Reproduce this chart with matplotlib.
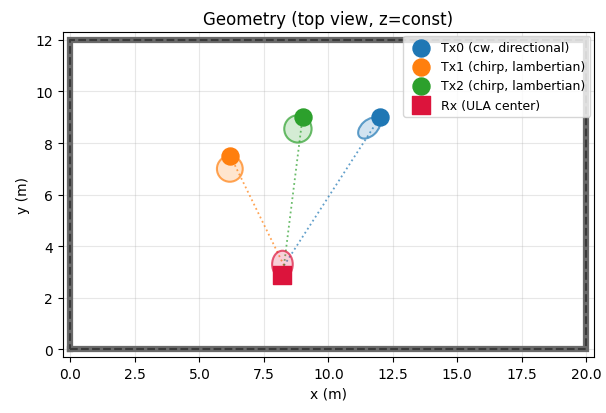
import matplotlib
matplotlib.use("Agg")
import matplotlib.pyplot as plt
from matplotlib.patches import Ellipse

# Data
room_w, room_h = 20.0, 12.0
tx_names = ["Tx0 (cw, directional)", "Tx1 (chirp, lambertian)", "Tx2 (chirp, lambertian)"]
tx_colors = ["#1f77b4", "#ff7f0e", "#2ca02c"]
tx_x = [12.0, 6.2, 9.0]
tx_y = [9.0, 7.5, 9.0]
# footprint ellipses: center x, center y, width, height, angle
fp_x = [11.58, 6.18, 8.82]
fp_y = [8.58, 7.0, 8.55]
fp_w = [1.0, 1.0, 1.06]
fp_h = [0.62, 1.0, 1.06]
fp_ang = [42.0, 0.0, 0.0]
rx_name = "Rx (ULA center)"
rx_color = "crimson"
rx_x, rx_y = 8.22, 2.88
rx_link_x, rx_link_y = 8.28, 3.25
rx_fp = (8.22, 3.3, 0.8, 1.05)

fig = plt.figure(figsize=(6.06, 4.14), dpi=100)
ax = fig.add_axes([62.7/606, 1 - 359.3/414, (594 - 62.7)/606, (359.3 - 32)/414])

# room boundary
rxs = [0, room_w, room_w, 0, 0]
rys = [0, 0, room_h, room_h, 0]
ax.plot(rxs, rys, color="#6a6a6a", lw=4.5, solid_joinstyle="miter", zorder=2)
ax.plot(rxs, rys, color="#3a3a3a", lw=1.5, ls="--", zorder=2.1)

# links
for i in range(len(tx_x)):
    ax.plot([rx_link_x, tx_x[i]], [rx_link_y, tx_y[i]], ls=":", color=tx_colors[i],
            lw=1.3, alpha=0.7, zorder=3)

# footprints
for i in range(len(tx_x)):
    e = Ellipse((fp_x[i], fp_y[i]), fp_w[i], fp_h[i], angle=fp_ang[i],
                facecolor=tx_colors[i], edgecolor=tx_colors[i], alpha=0.2, lw=0, zorder=3)
    ax.add_patch(e)
    e2 = Ellipse((fp_x[i], fp_y[i]), fp_w[i], fp_h[i], angle=fp_ang[i],
                 facecolor="none", edgecolor=tx_colors[i], alpha=0.7, lw=1.5, zorder=3)
    ax.add_patch(e2)
e = Ellipse((rx_fp[0], rx_fp[1]), rx_fp[2], rx_fp[3], facecolor=rx_color,
            alpha=0.2, lw=0, zorder=3)
ax.add_patch(e)
e2 = Ellipse((rx_fp[0], rx_fp[1]), rx_fp[2], rx_fp[3], facecolor="none",
             edgecolor=rx_color, alpha=0.7, lw=1.5, zorder=3)
ax.add_patch(e2)

for i in range(len(tx_x)):
    ax.scatter([tx_x[i]], [tx_y[i]], s=150, color=tx_colors[i], label=tx_names[i], zorder=5)
ax.scatter([rx_x], [rx_y], s=150, marker="s", color=rx_color, label=rx_name, zorder=5)

ax.set_xlim(-0.3, 20.3)
ax.set_ylim(-0.3, 12.3)
ax.set_aspect("equal", adjustable="box")
ax.grid(True, alpha=0.3)
ax.set_xlabel("x (m)")
ax.set_ylabel("y (m)")
ax.set_title("Geometry (top view, z=const)")
ax.legend(loc="upper right", fontsize=9, borderaxespad=0.3, handletextpad=0.6)

fig.savefig("out.png", dpi=100)
